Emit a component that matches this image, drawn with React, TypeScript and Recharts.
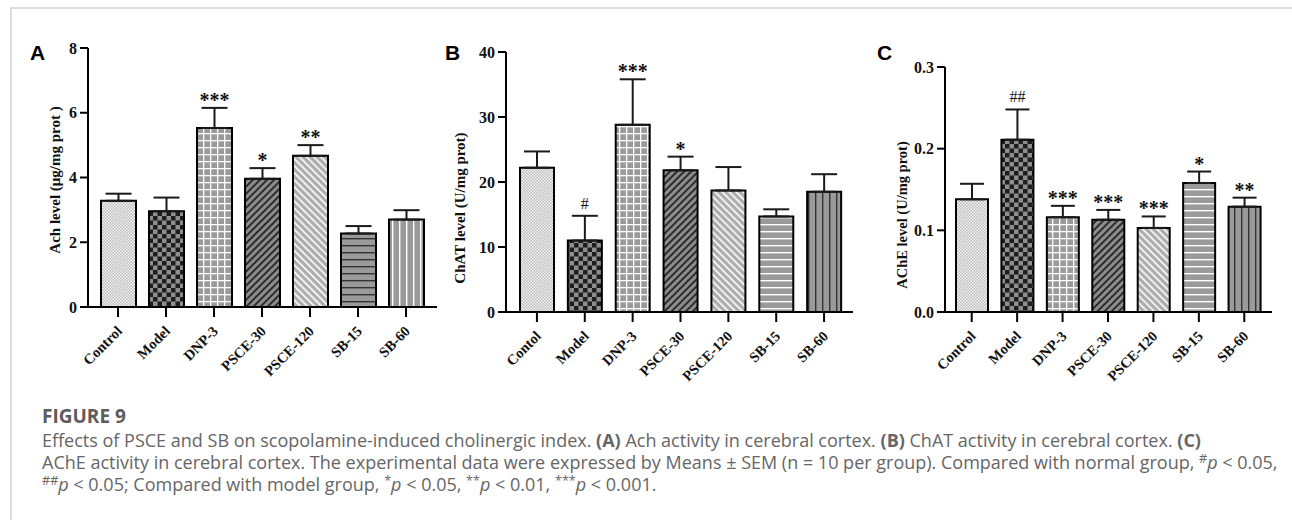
import React from 'react';
import { BarChart, Bar, XAxis, YAxis, ErrorBar, LabelList, Cell } from 'recharts';

// group names (panel B really says "Contol" in the figure)
const groups = ['Control', 'Model', 'DNP-3', 'PSCE-30', 'PSCE-120', 'SB-15', 'SB-60'];
const groupsB = ['Contol', 'Model', 'DNP-3', 'PSCE-30', 'PSCE-120', 'SB-15', 'SB-60'];

// A - Ach level (μg/mg prot)
const achMean = [3.28, 2.96, 5.53, 3.96, 4.67, 2.27, 2.7];
const achSem = [0.22, 0.42, 0.62, 0.33, 0.33, 0.23, 0.29];
const achSig = ['', '', '***', '*', '**', '', ''];
const achTicks = [0, 2, 4, 6, 8];

// B - ChAT level (U/mg prot)
const chatMean = [22.2, 11.0, 28.8, 21.8, 18.7, 14.7, 18.5];
const chatSem = [2.5, 3.8, 7.0, 2.1, 3.6, 1.1, 2.7];
const chatSig = ['', '#', '***', '*', '', '', ''];
const chatTicks = [0, 10, 20, 30, 40];

// C - AChE level (U/mg prot)
const acheMean = [0.138, 0.211, 0.116, 0.113, 0.103, 0.158, 0.129];
const acheSem = [0.019, 0.037, 0.014, 0.012, 0.014, 0.014, 0.011];
const acheSig = ['', '##', '***', '***', '***', '*', '**'];
const acheTicks = [0, 0.1, 0.2, 0.3];

const SERIF = '"Liberation Serif", "Times New Roman", serif';
const SANS = '"Liberation Sans", Arial, sans-serif';
const CAPTION_FONT = '"Open Sans", "Noto Sans", sans-serif';

const buildRows = (names: string[], mean: number[], sem: number[], sig: string[]) =>
  names.map((name, i) => ({ name, mean: mean[i], sem: sem[i], err: [0, sem[i]], sig: sig[i] }));

// Prism-like bar fills, one per group
const patterns = (id: string, sb15Line: string, sb60Line: string) => (
  <defs>
    <pattern id={`${id}-p0`} width={3} height={3} patternUnits="userSpaceOnUse">
      <rect width={3} height={3} fill="#bcbcbc" />
      <rect width={1.5} height={1.5} fill="#f4f4f4" />
      <rect x={1.5} y={1.5} width={1.5} height={1.5} fill="#f4f4f4" />
    </pattern>
    <pattern id={`${id}-p1`} width={9} height={9} patternUnits="userSpaceOnUse">
      <rect width={9} height={9} fill="#8e8e8e" />
      <rect width={4.5} height={4.5} fill="#1e1e1e" />
      <rect x={4.5} y={4.5} width={4.5} height={4.5} fill="#1e1e1e" />
    </pattern>
    <pattern id={`${id}-p2`} width={7} height={7} patternUnits="userSpaceOnUse">
      <rect width={7} height={7} fill="#9a9a9a" />
      <rect width={7} height={1.3} fill="#ffffff" />
      <rect width={1.3} height={7} fill="#ffffff" />
    </pattern>
    <pattern id={`${id}-p3`} width={5} height={5} patternUnits="userSpaceOnUse" patternTransform="rotate(45)">
      <rect width={5} height={5} fill="#8c8c8c" />
      <rect width={2} height={5} fill="#2c2c2c" />
    </pattern>
    <pattern id={`${id}-p4`} width={5} height={5} patternUnits="userSpaceOnUse" patternTransform="rotate(-45)">
      <rect width={5} height={5} fill="#adadad" />
      <rect width={1.6} height={5} fill="#ffffff" />
    </pattern>
    <pattern id={`${id}-p5`} width={7} height={7} patternUnits="userSpaceOnUse">
      <rect width={7} height={7} fill="#9a9a9a" />
      <rect width={7} height={1.4} fill={sb15Line} />
    </pattern>
    <pattern id={`${id}-p6`} width={7} height={7} patternUnits="userSpaceOnUse">
      <rect width={7} height={7} fill="#9a9a9a" />
      <rect width={1.4} height={7} fill={sb60Line} />
    </pattern>
  </defs>
);

const XTick = ({ x, y, payload }: any) => (
  <text
    x={x + 5}
    y={y + 13}
    transform={`rotate(-45, ${x + 5}, ${y + 13})`}
    textAnchor="end"
    fontFamily={SERIF}
    fontWeight="bold"
    fontSize={14.5}
    fill="#111"
  >
    {payload.value}
  </text>
);

// stars / hashes sit on top of the invisible "sem" bar, i.e. at the error bar tip
const renderSig = (props: any) => {
  const vb = props.viewBox ?? props;
  const text = props.value;
  if (!text) return null;
  const cx = vb.x + vb.width / 2;
  const isHash = String(text).includes('#');
  return (
    <text
      x={cx}
      y={vb.y - (isHash ? 7 : 1)}
      textAnchor="middle"
      fontFamily={SERIF}
      fontWeight={isHash ? 'normal' : 'bold'}
      fontSize={isHash ? 16 : 20}
      fill="#111"
    >
      {text}
    </text>
  );
};

interface PanelProps {
  id: string;
  rows: any[];
  ticks: number[];
  yLabel: string;
  labelX: number;
  labelY: number;
  labelSize: number;
  left: number;
  width: number;
  margin: { top: number; right: number; bottom: number; left: number };
  padding: { left: number; right: number };
  barSize: number;
  sb15Line: string;
  sb60Line: string;
  fmt?: (v: number) => string;
}

function Panel(p: PanelProps) {
  const axisStyle = { stroke: '#000', strokeWidth: 2 };
  return (
    <div style={{ position: 'absolute', left: p.left, top: 0 }}>
      <BarChart width={p.width} height={400} data={p.rows} margin={p.margin} barCategoryGap={0}>
        {patterns(p.id, p.sb15Line, p.sb60Line)}
        <XAxis
          dataKey="name"
          height={60}
          padding={p.padding}
          axisLine={axisStyle}
          tickLine={axisStyle}
          tickSize={10}
          interval={0}
          tick={(t: any) => <XTick {...t} />}
        />
        <YAxis
          width={60}
          domain={[p.ticks[0], p.ticks[p.ticks.length - 1]]}
          ticks={p.ticks}
          allowDataOverflow
          axisLine={axisStyle}
          tickLine={axisStyle}
          tickSize={8}
          tickMargin={3}
          tickFormatter={p.fmt}
          tick={{ fill: '#111', fontSize: 16, fontWeight: 700, fontFamily: SERIF }}
          label={{
            value: p.yLabel,
            content: () => (
              <text
                x={p.labelX}
                y={p.labelY}
                transform={`rotate(-90, ${p.labelX}, ${p.labelY})`}
                textAnchor="middle"
                fontFamily={SERIF}
                fontWeight="bold"
                fontSize={p.labelSize}
                fill="#111"
              >
                {p.yLabel}
              </text>
            ),
          }}
        />
        <Bar dataKey="mean" stackId="s" barSize={p.barSize} stroke="#000" strokeWidth={2} isAnimationActive={false}>
          {p.rows.map((r, i) => (
            <Cell key={`cell-${i}`} fill={`url(#${p.id}-p${i})`} />
          ))}
          <ErrorBar dataKey="err" direction="y" width={Math.round(p.barSize * 0.37)} stroke="#1a1a1a" strokeWidth={2} />
        </Bar>
        <Bar dataKey="sem" stackId="s" barSize={p.barSize} fill="none" stroke="none" isAnimationActive={false}>
          <LabelList dataKey="sig" content={renderSig} />
        </Bar>
      </BarChart>
    </div>
  );
}

const letterStyle = (left: number): React.CSSProperties => ({
  position: 'absolute',
  left,
  top: 42,
  fontFamily: SANS,
  fontWeight: 700,
  fontSize: 21,
  lineHeight: '21px',
  color: '#000',
});

const sup = (s: string) => (
  <span style={{ fontSize: '0.7em', verticalAlign: '0.45em', lineHeight: 0 }}>{s}</span>
);

export default function App() {
  const rowsA = buildRows(groups, achMean, achSem, achSig);
  const rowsB = buildRows(groupsB, chatMean, chatSem, chatSig);
  const rowsC = buildRows(groups, acheMean, acheSem, acheSig);

  return (
    <div
      style={{
        position: 'absolute',
        left: 0,
        top: 0,
        width: 1292,
        height: 522,
        background: '#fff',
        overflow: 'hidden',
      }}
    >
      {/* page frame */}
      <div style={{ position: 'absolute', left: 10, top: 7, width: 1282, height: 511, borderTop: '2px solid #dcdcdc', borderLeft: '2px solid #dcdcdc' }} />

      <Panel
        id="pa"
        rows={rowsA}
        ticks={achTicks}
        yLabel="Ach level (μg/mg prot )"
        labelX={60}
        labelY={180}
        labelSize={15}
        left={0}
        width={450}
        margin={{ top: 48, right: 13, bottom: 33, left: 28 }}
        padding={{ left: 6, right: 7 }}
        barSize={35}
        sb15Line="#333"
        sb60Line="#fff"
      />
      <Panel
        id="pb"
        rows={rowsB}
        ticks={chatTicks}
        yLabel="ChAT level (U/mg prot)"
        labelX={35}
        labelY={208}
        labelSize={15}
        left={430}
        width={440}
        margin={{ top: 52, right: 17, bottom: 28, left: 16 }}
        padding={{ left: 7, right: 5 }}
        barSize={34}
        sb15Line="#fff"
        sb60Line="#333"
      />
      <Panel
        id="pc"
        rows={rowsC}
        ticks={acheTicks}
        yLabel="AChE level (U/mg prot)"
        labelX={37}
        labelY={215}
        labelSize={14.5}
        left={870}
        width={422}
        margin={{ top: 67, right: 20, bottom: 28, left: 15 }}
        padding={{ left: 4, right: 5 }}
        barSize={32}
        sb15Line="#fff"
        sb60Line="#333"
        fmt={(v: number) => v.toFixed(1)}
      />

      <div style={letterStyle(30)}>A</div>
      <div style={letterStyle(445)}>B</div>
      <div style={letterStyle(877)}>C</div>

      <div
        style={{
          position: 'absolute',
          left: 42,
          top: 405,
          fontFamily: CAPTION_FONT,
          fontWeight: 700,
          fontSize: 19,
          lineHeight: '22px',
          color: '#5c5c5c',
        }}
      >
        FIGURE 9
      </div>
      <div
        style={{
          position: 'absolute',
          left: 42,
          top: 429,
          fontFamily: CAPTION_FONT,
          fontSize: 18,
          lineHeight: '22px',
          color: '#666',
          whiteSpace: 'nowrap',
        }}
      >
        Effects of PSCE and SB on scopolamine-induced cholinergic index. <b>(A)</b> Ach activity in cerebral cortex. <b>(B)</b> ChAT
        activity in cerebral cortex. <b>(C)</b>
        <br />
        AChE activity in cerebral cortex. The experimental data were expressed by Means ± SEM (n = 10 per group). Compared with
        normal group, {sup('#')}
        <i>p</i> &lt; 0.05,
        <br />
        {sup('##')}
        <i>p</i> &lt; 0.05; Compared with model group, {sup('*')}
        <i>p</i> &lt; 0.05, {sup('**')}
        <i>p</i> &lt; 0.01, {sup('***')}
        <i>p</i> &lt; 0.001.
      </div>
    </div>
  );
}
